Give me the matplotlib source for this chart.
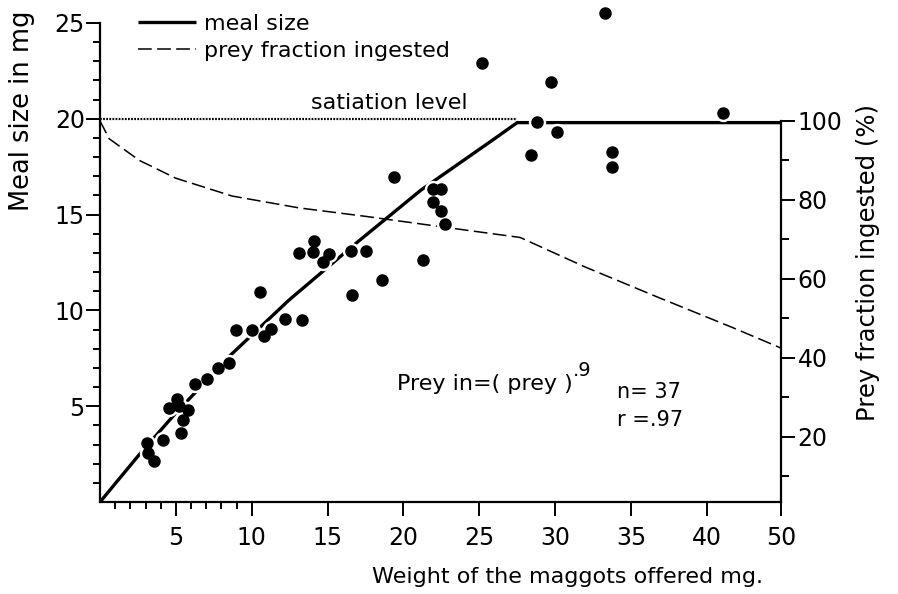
import numpy as np
import matplotlib
matplotlib.use("Agg")
import matplotlib.pyplot as plt

# prey offered (mg) vs meal size (mg), single feeding trials
prey_mg = [3.1, 3.16, 3.55, 4.14, 5.33, 5.46, 4.54, 5.07, 5.2, 5.79,
           6.25, 7.05, 7.78, 8.5, 8.96, 10.02, 10.8, 11.27, 12.2, 13.3,
           10.55, 16.64, 13.1, 14.1, 14.05, 15.08, 14.7, 16.54, 17.53, 21.27,
           18.56, 19.4, 21.95, 22.48, 21.95, 22.48, 22.75,
           25.17, 33.3, 29.75, 28.8, 30.1, 28.4, 33.75, 33.75, 41.1]
meal_mg = [3.08, 2.56, 2.14, 3.24, 3.6, 4.28, 4.91, 5.38, 5.01, 4.8,
           6.16, 6.42, 6.99, 7.25, 8.98, 8.98, 8.66, 9.03, 9.55, 9.5,
           10.94, 10.8, 12.98, 13.64, 13.06, 12.93, 12.54, 13.12, 13.1, 12.63,
           11.59, 16.98, 16.34, 16.34, 15.67, 15.2, 14.5,
           22.9, 25.5, 21.9, 19.85, 19.3, 18.1, 18.25, 17.5, 20.29]

# fitted meal size curve, levelling off at satiation
fit_x = [0, 2.56, 4.88, 8.61, 12.46, 16.87, 21.16, 25.9, 27.5, 44.9]
fit_y = [0, 2.45, 4.54, 7.67, 10.54, 13.5, 16.28, 18.9, 19.8, 19.8]

# fraction of the offered prey that is eaten (%)
frac_x = [0, 0.6, 2.6, 5.0, 8.7, 13.1, 17.6, 22.9, 27.7, 32.0, 36.7, 41.7, 44.9]
frac_pct = [100, 95.5, 90, 85.5, 81, 78, 75.8, 73, 70.5, 63, 55.5, 47.7, 42.5]

satiation_mg = 20
satiation_end = 27.5

x_ticks = [5, 10, 15, 20, 25, 30, 35, 40, 44.9]
x_ticklabels = ["5", "10", "15", "20", "25", "30", "35", "40", "50"]
x_minor = [1, 2, 3, 4, 6, 7, 8, 9]
y_ticks = [5, 10, 15, 20, 25]
y_minor = [1, 2, 3, 4, 6, 7, 8, 9, 11, 12, 13, 14, 16, 17, 18, 19, 21, 22, 23, 24]
pct_ticks = [20, 40, 60, 80, 100]
pct_minor = [10, 30, 50, 70, 90]

plt.rcParams["font.family"] = ["DejaVu Sans"]
FS = 17

fig = plt.figure(figsize=(8.98, 5.94), dpi=100)
ax = fig.add_axes([0.1114, 0.1549, 0.7584, 0.8064])
ax2 = ax.twinx()

ax.set_xlim(0, 44.9)
ax.set_ylim(0, 25)
ax2.set_ylim(3.54, 124.8)

for s in ("top", "right"):
    ax.spines[s].set_visible(False)
for s in ("top", "left", "bottom"):
    ax2.spines[s].set_visible(False)
ax.spines["left"].set_linewidth(1.6)
ax.spines["bottom"].set_linewidth(1.6)
ax2.spines["right"].set_linewidth(1.6)
ax2.spines["right"].set_bounds(3.54, 100)

ax.set_xticks(x_ticks)
ax.set_xticklabels(x_ticklabels)
ax.set_xticks(x_minor, minor=True)
ax.set_yticks(y_ticks)
ax.set_yticks(y_minor, minor=True)
ax2.set_yticks(pct_ticks)
ax2.set_yticks(pct_minor, minor=True)

ax.tick_params(which="major", length=10, width=1.4, labelsize=FS, pad=1)
ax.tick_params(which="minor", length=5, width=1.4)
ax.tick_params(axis="x", which="major", pad=7)
ax2.tick_params(which="major", length=10, width=1.4, labelsize=FS, pad=2)
ax2.tick_params(which="minor", length=6, width=1.4)

# satiation level
ax.plot([0, satiation_end], [satiation_mg, satiation_mg], color="black",
        lw=1.6, linestyle=(0, (0.8, 0.6)), zorder=2)
ax.text(19.1, 20.8, "satiation level", fontsize=16, ha="center", va="center")

meal_line, = ax.plot(fit_x, fit_y, color="black", lw=2.4, zorder=2,
                     solid_capstyle="butt", label="meal size")
frac_line, = ax2.plot(frac_x, frac_pct, color="black", lw=1.1,
                      linestyle=(0, (9, 3.5)), zorder=2,
                      label="prey fraction ingested")

# white halo under the dots, then the dots
ax.plot(prey_mg, meal_mg, "o", ms=11.5, color="white", mec="white",
        zorder=3, clip_on=False)
ax.plot(prey_mg, meal_mg, "o", ms=8, color="black", mec="black",
        zorder=4, clip_on=False)
ax.set_zorder(ax2.get_zorder() + 1)
ax.patch.set_visible(False)

ax.text(19.6, 6.15, "Prey in=( prey )", fontsize=16, ha="left", va="center")
ax.text(31.2, 6.85, ".9", fontsize=14, ha="left", va="center")
ax.text(34.1, 5.74, "n= 37", fontsize=15, ha="left", va="center")
ax.text(34.1, 4.28, "r =.97", fontsize=15, ha="left", va="center")

fig.legend(handles=[meal_line, frac_line], loc="upper left",
           bbox_to_anchor=(138 / 898, 1 - 14 / 594), frameon=False,
           fontsize=16, handlelength=2.6, handletextpad=0.36,
           borderpad=0, borderaxespad=0, labelspacing=0.3)

fig.text(22 / 898, 1 - 111 / 594, "Meal size in mg", rotation=90,
         ha="center", va="center", fontsize=18.5)
fig.text(868 / 898, 1 - 263 / 594, "Prey fraction ingested (%)", rotation=90,
         ha="center", va="center", fontsize=17.5)
fig.text(568 / 898, 1 - 577 / 594, "Weight of the maggots offered mg.",
         ha="center", va="center", fontsize=16)

fig.savefig("out.png", dpi=100)
